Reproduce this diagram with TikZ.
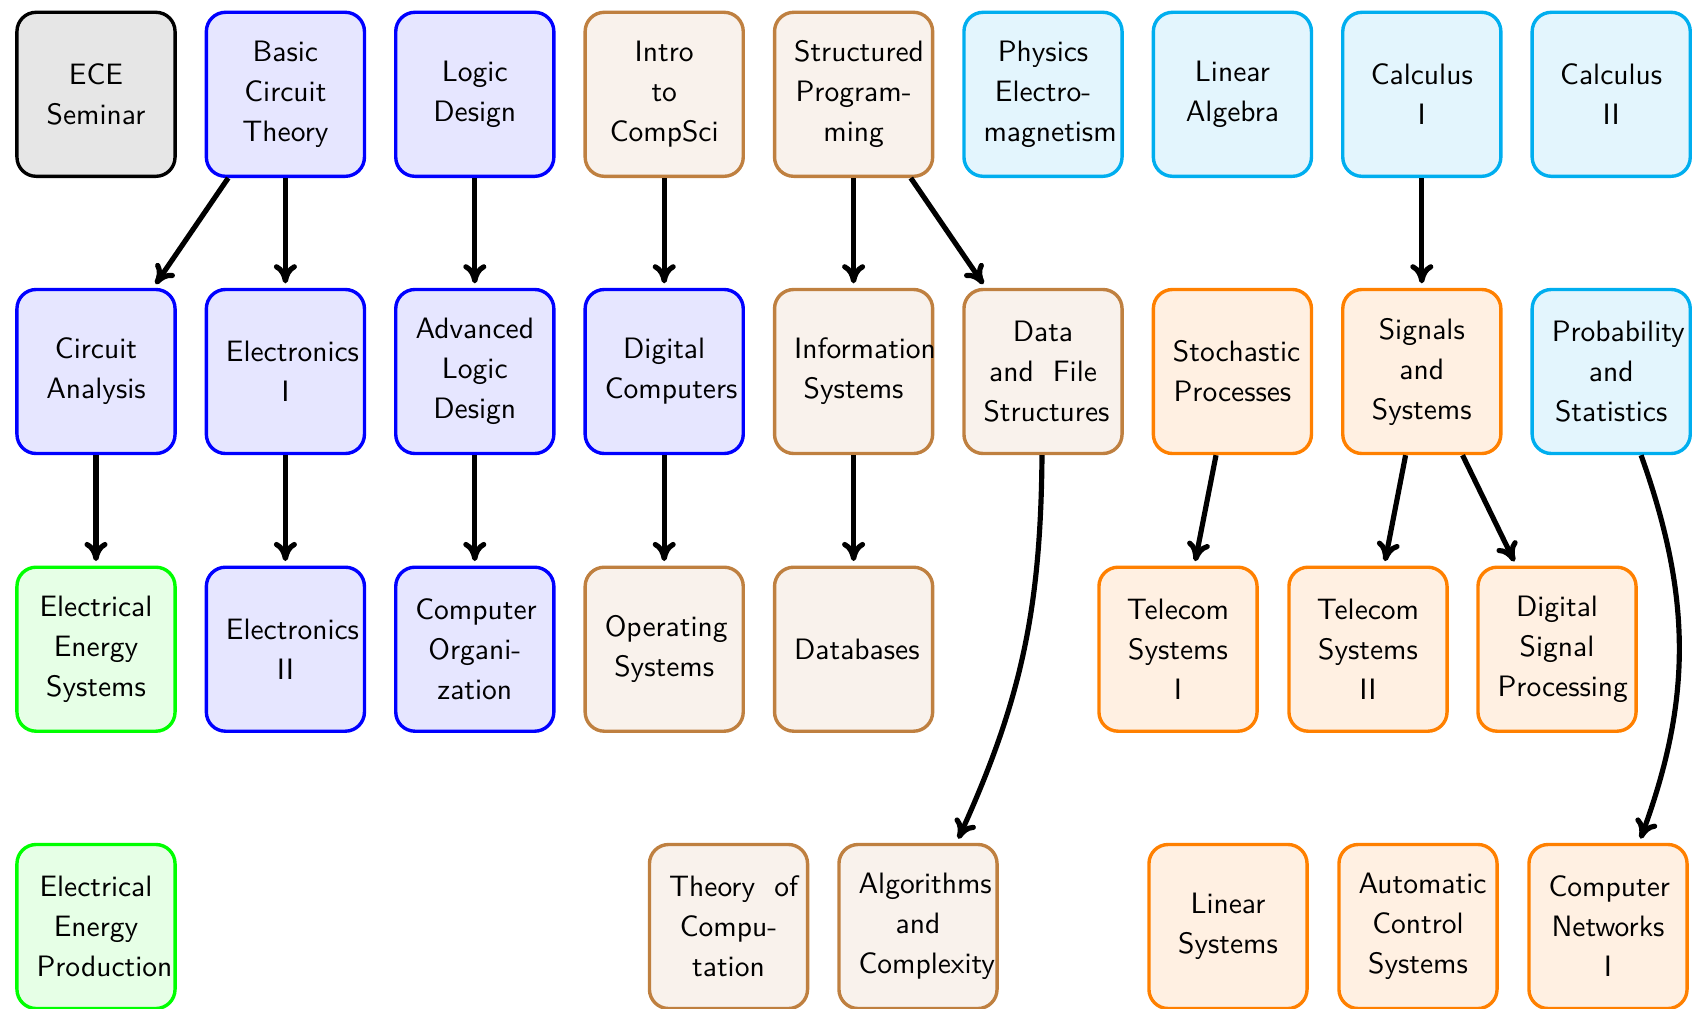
\documentclass[tikz,border=0pt]{standalone}
\usepackage{xcolor}
\usetikzlibrary{arrows.meta}
\definecolor{cGrayD}{HTML}{000000}
\definecolor{cGrayF}{HTML}{E6E6E6}
\definecolor{cBlueD}{HTML}{0000FF}
\definecolor{cBlueF}{HTML}{E6E6FF}
\definecolor{cBrownD}{HTML}{BF8040}
\definecolor{cBrownF}{HTML}{F9F2EC}
\definecolor{cCyanD}{HTML}{00AEEF}
\definecolor{cCyanF}{HTML}{E3F5FD}
\definecolor{cOrangeD}{HTML}{FF8000}
\definecolor{cOrangeF}{HTML}{FFF0E2}
\definecolor{cGreenD}{HTML}{00FF00}
\definecolor{cGreenF}{HTML}{E6FFE6}
\newcommand{\coursefont}{\sffamily\fontsize{10}{13.56}\selectfont\hyphenpenalty=10000\relax\exhyphenpenalty=10000\relax}
\begin{document}
\begin{tikzpicture}[x=0.339pt,y=0.339pt,
  course/.style={draw, rounded corners=6.5pt, line width=1.15pt,
    minimum width=53.6pt, minimum height=55.6pt, text width=40.3pt,
    align=center, font=\coursefont},
  graybox/.style={course, draw=cGrayD, fill=cGrayF},
  bluebox/.style={course, draw=cBlueD, fill=cBlueF},
  brownbox/.style={course, draw=cBrownD, fill=cBrownF},
  cyanbox/.style={course, draw=cCyanD, fill=cCyanF},
  orangebox/.style={course, draw=cOrangeD, fill=cOrangeF},
  greenbox/.style={course, draw=cGreenD, fill=cGreenF},
  arr/.style={-{To[length=6.5pt,width=7.8pt]}, line width=1.75pt, black, shorten >=1.5pt}]
\useasboundingbox (0,0) rectangle (1693,-1008);
% row 1
\node[graybox]   (ece)    at (96,-94.3)     {ECE\\Seminar};
\node[bluebox]   (basic)  at (285.4,-94.3)  {Basic\\Circuit\\Theory};
\node[bluebox]   (logic)  at (474.8,-94.3)  {Logic\\Design};
\node[brownbox]  (intro)  at (664.2,-94.3)  {Intro\\to\\CompSci};
\node[brownbox]  (struct) at (853.6,-94.3)  {Structured\\Program-\\ming};
\node[cyanbox]   (phys)   at (1043,-94.3)   {Physics\\Electro-\\magnetism};
\node[cyanbox]   (linalg) at (1232.4,-94.3) {Linear\\Algebra};
\node[cyanbox]   (calca)  at (1421.8,-94.3) {Calculus\\I};
\node[cyanbox]   (calcb)  at (1611.2,-94.3) {Calculus\\II};
% row 2
\node[bluebox]   (circan)   at (96,-371.5)     {Circuit\\Analysis};
\node[bluebox]   (eleca)    at (285.4,-371.5)  {Electronics\\I};
\node[bluebox]   (advlogic) at (474.8,-371.5)  {Advanced\\Logic\\Design};
\node[bluebox]   (digcomp)  at (664.2,-371.5)  {Digital\\Computers};
\node[brownbox]  (infosys)  at (853.6,-371.5)  {Information\\Systems};
\node[brownbox]  (datafile) at (1043,-371.5)   {Data\\\mbox{and\hspace{0.65em}File}\\Structures};
\node[orangebox] (stoch)    at (1232.4,-371.5) {Stochastic\\Processes};
\node[orangebox] (signals)  at (1421.8,-371.5) {Signals\\and\\Systems};
\node[cyanbox]   (prob)     at (1611.2,-371.5) {Probability\\and\\Statistics};
% row 3
\node[greenbox]  (ees)     at (96,-649.2)    {Electrical\\Energy\\Systems};
\node[bluebox]   (elecb)   at (285.4,-649.2) {Electronics\\II};
\node[bluebox]   (comporg) at (474.8,-649.2) {Computer\\Organi-\\zation};
\node[brownbox]  (os)      at (664.2,-649.2) {Operating\\Systems};
\node[brownbox]  (db)      at (853.6,-649.2) {Databases};
\node[orangebox] (tela)    at (1178,-649.2)  {Telecom\\Systems\\I};
\node[orangebox] (telb)    at (1368,-649.2)  {Telecom\\Systems\\II};
\node[orangebox] (dsp)     at (1557,-649.2)  {Digital\\Signal\\Processing};
% row 4
\node[greenbox]  (eep)     at (96,-926.5)    {Electrical\\Energy\\Production};
\node[brownbox]  (theory)  at (728.5,-926.5) {\mbox{Theory\hspace{0.65em}of}\\Compu-\\tation};
\node[brownbox]  (algo)    at (918,-926.5)   {Algorithms\\and\\Complexity};
\node[orangebox] (linsys)  at (1228,-926.5)  {Linear\\Systems};
\node[orangebox] (acs)     at (1418,-926.5)  {Automatic\\Control\\Systems};
\node[orangebox] (compnet) at (1608,-926.5)  {Computer\\Networks\\I};
% arrows
\draw[arr] (basic) -- (circan);
\draw[arr] (basic) -- (eleca);
\draw[arr] (logic) -- (advlogic);
\draw[arr] (intro) -- (digcomp);
\draw[arr] (struct) -- (infosys);
\draw[arr] (struct) -- (datafile);
\draw[arr] (calca) -- (signals);
\draw[arr] (circan) -- (ees);
\draw[arr] (eleca) -- (elecb);
\draw[arr] (advlogic) -- (comporg);
\draw[arr] (digcomp) -- (os);
\draw[arr] (infosys) -- (db);
\draw[arr] (datafile) to[bend left=12] (algo);
\draw[arr] (stoch) -- (tela);
\draw[arr] (signals) -- (telb);
\draw[arr] (signals) -- (dsp);
\draw[arr] (prob) to[bend left=20] (compnet);
\end{tikzpicture}
\end{document}
